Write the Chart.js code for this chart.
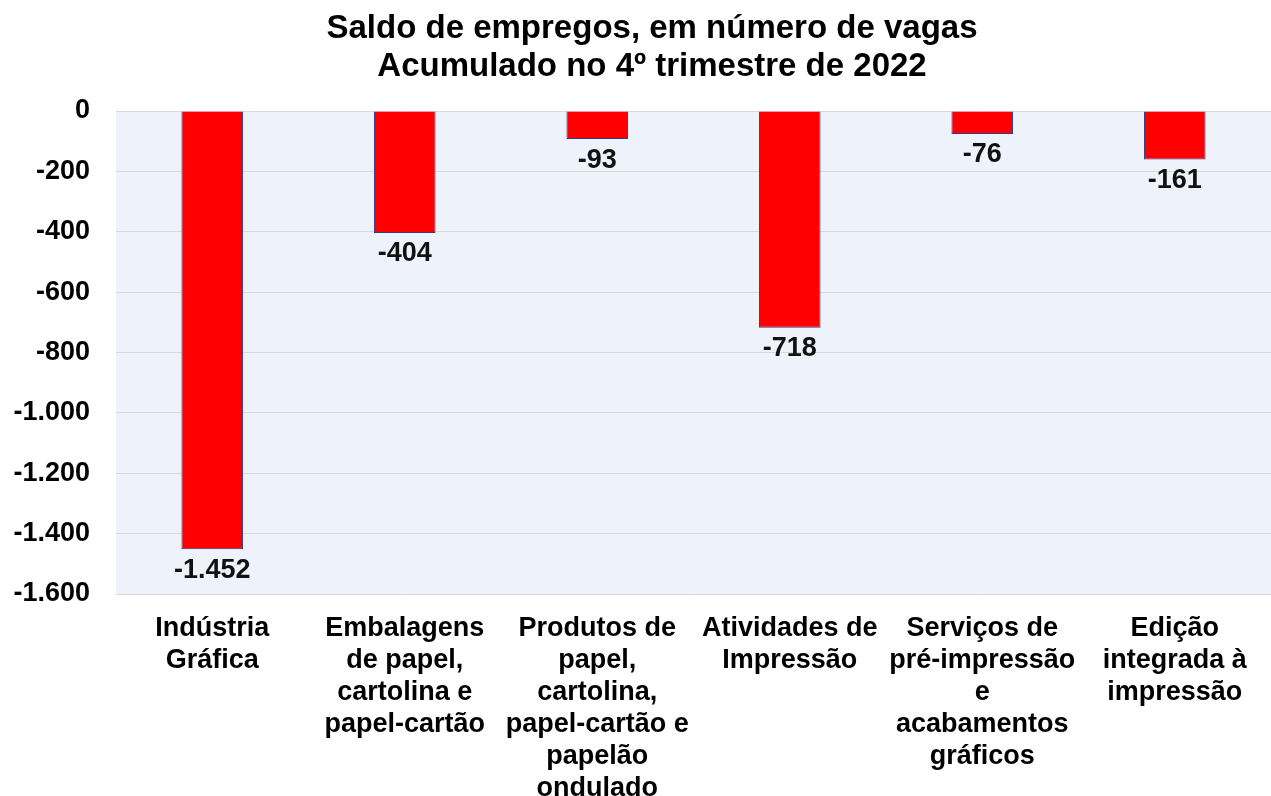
<!DOCTYPE html>
<html>
<head>
<meta charset="utf-8">
<script src="https://cdn.jsdelivr.net/npm/chart.js@4.4.0/dist/chart.umd.min.js"></script>
<style>
  html, body { margin: 0; padding: 0; background: #fff; }
  #wrap { width: 1271px; height: 796px; }
</style>
</head>
<body>
<div id="wrap"><canvas id="saldo" width="1271" height="796"></canvas></div>
<script>
let categorias = [
    ['Indústria', 'Gráfica'],
    ['Embalagens', 'de papel,', 'cartolina e', 'papel-cartão'],
    ['Produtos de', 'papel,', 'cartolina,', 'papel-cartão e', 'papelão', 'ondulado'],
    ['Atividades de', 'Impressão'],
    ['Serviços de', 'pré-impressão', 'e', 'acabamentos', 'gráficos'],
    ['Edição', 'integrada à', 'impressão']
];

let saldos = [-1452, -404, -93, -718, -76, -161];

let tituloLinhas = [
    'Saldo de empregos, em número de vagas',
    'Acumulado no 4º trimestre de 2022'
];

const FONTE = '"Liberation Sans", Arial, sans-serif';

function fmt(v) {
    return v.toLocaleString('pt-BR');
}

// fundo azulado so na area do grafico
const fundoArea = {
    id: 'fundoArea',
    beforeDraw(chart) {
        const { ctx, chartArea } = chart;
        ctx.save();
        ctx.fillStyle = '#eef2fa';
        ctx.fillRect(chartArea.left, chartArea.top, chartArea.right - chartArea.left, chartArea.bottom - chartArea.top);
        ctx.restore();
    }
};

// titulo desenhado a mao (centro um pouco deslocado, como no original)
const titulo = {
    id: 'titulo',
    afterDraw(chart) {
        const ctx = chart.ctx;
        ctx.save();
        ctx.font = 'bold 33px ' + FONTE;
        ctx.fillStyle = '#000';
        ctx.textAlign = 'center';
        ctx.textBaseline = 'alphabetic';
        tituloLinhas.forEach((t, i) => ctx.fillText(t, 652, 38 + i * 37.5));
        ctx.restore();
    }
};

const rotulos = {
    id: 'rotulos',
    afterDatasetsDraw(chart) {
        const ctx = chart.ctx;
        const meta = chart.getDatasetMeta(0);
        ctx.save();
        ctx.font = 'bold 27px ' + FONTE;
        ctx.fillStyle = '#111';
        ctx.textAlign = 'center';
        ctx.textBaseline = 'middle';
        meta.data.forEach((bar, i) => {
            ctx.fillText(fmt(saldos[i]), bar.x, bar.y + 21);
        });
        ctx.restore();
    }
};

const config = {
    type: 'bar',
    data: {
        labels: categorias,
        datasets: [{
            data: saldos,
            backgroundColor: '#ff0000',
            borderColor: '#2e3a8c',
            borderWidth: 1,
            barPercentage: 0.32,
            categoryPercentage: 1
        }]
    },
    options: {
        responsive: false,
        animation: false,
        layout: { padding: { left: 0, right: 0, top: 111, bottom: 0 } },
        plugins: {
            legend: { display: false },
            tooltip: { enabled: false },
            title: { display: false }
        },
        scales: {
            x: {
                grid: { display: false },
                border: { display: false },
                ticks: {
                    color: '#000',
                    maxRotation: 0,
                    autoSkip: false,
                    padding: 10,
                    font: { family: FONTE, size: 27, weight: 'bold', lineHeight: 1.19 }
                },
                afterFit(scale) { scale.height = 202; }
            },
            y: {
                min: -1600,
                max: 0,
                grid: { color: '#d9d9d9', drawTicks: false },
                border: { display: false },
                ticks: {
                    stepSize: 200,
                    color: '#000',
                    padding: 26,
                    font: { family: FONTE, size: 27, weight: 'bold' },
                    callback: (v) => fmt(v)
                },
                afterFit(scale) { scale.width = 116; }
            }
        }
    },
    plugins: [fundoArea, titulo, rotulos]
};

const grafico = new Chart(document.getElementById('saldo'), config);
</script>
</body>
</html>
